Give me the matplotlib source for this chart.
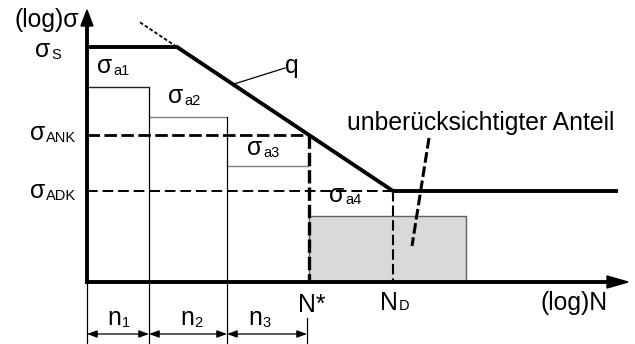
import matplotlib
matplotlib.use("Agg")
import matplotlib.pyplot as plt
from matplotlib.patches import Rectangle, Polygon

plt.rcParams["font.family"] = ["Liberation Sans", "DejaVu Sans"]

# Stress levels (log scale, height above the N axis)
sigma_S = 235
sigma_ANK = 147
sigma_ADK = 91
sigma_a = [195, 165, 116, 66]
sigma_a_subs = ["a1", "a2", "a3", "a4"]

# Cycle positions (log scale, distance from the sigma axis)
N_knee = 90          # end of the static-strength plateau
N_D = 306            # knee point of the endurance limit
block_edges = [0, 62, 140]
block4_end = 379
line_end = 531
n_subs = ["1", "2", "3"]

# Axis extents
x_axis_end = 541
y_axis_end = 272

MAIN = 17.8
SUB = 10.5

# Finite-life branch through both knee points
slope = (sigma_S - sigma_ADK) / (N_D - N_knee)
N_star = N_knee + (sigma_S - sigma_ANK) / slope
edges = block_edges + [N_star]


def woehler(x):
    return sigma_S - slope * (x - N_knee)


fig = plt.figure(figsize=(6.35, 3.44), dpi=100)
ax = fig.add_axes([0, 0, 1, 1])
ax.set_xlim(-87, 548)
ax.set_ylim(-62, 282)
ax.axis("off")

bottom = -62

# Load blocks 1-3
top_colors = ["#222222", "#808080", "#808080"]
for i in range(3):
    ax.plot([edges[i], edges[i + 1]], [sigma_a[i], sigma_a[i]],
            color=top_colors[i], lw=1.0, solid_capstyle="butt", zorder=2)
for i in (1, 2):
    ax.plot([edges[i], edges[i]], [sigma_a[i - 1], bottom],
            color="black", lw=0.9, zorder=2)

# Block 4: the part below the endurance limit
ax.add_patch(Rectangle((N_star, 0), block4_end - N_star, sigma_a[3],
                       facecolor="#d9d9d9", edgecolor="#606060", lw=1.0, zorder=1))

# Extension lines for the dimension chain
ax.plot([0, 0], [0, bottom], color="black", lw=0.9, zorder=2)
ax.plot([N_star - 2, N_star - 2], [-36, bottom], color="black", lw=0.9, zorder=2)

# Dimension arrows n1..n3
dim_y = -52
for i in range(3):
    x0, x1 = edges[i], edges[i + 1] - (2 if i == 2 else 0)
    ax.annotate("", xy=(x1, dim_y), xytext=(x0, dim_y),
                arrowprops=dict(arrowstyle="<|-|>,head_length=0.6,head_width=0.22",
                                lw=0.9, color="black", shrinkA=0, shrinkB=0,
                                mutation_scale=10))

# Reference levels
ax.plot([0, N_star], [sigma_ANK, sigma_ANK], color="black", lw=2.0,
        linestyle=(0, (4.5, 1.6)), zorder=3)
ax.plot([0, N_D], [sigma_ADK, sigma_ADK], color="black", lw=1.4,
        linestyle=(0, (5.5, 2.5)), zorder=3)
ax.plot([N_star, N_star], [sigma_ANK, 0], color="black", lw=2.4,
        linestyle=(0, (4, 1.2)), zorder=3)
ax.plot([N_D, N_D], [sigma_ADK, 0], color="black", lw=1.5,
        linestyle=(0, (5, 2)), zorder=3)

# S-N curve
ax.plot([0, N_knee, N_D, line_end], [sigma_S, sigma_S, sigma_ADK, sigma_ADK],
        color="black", lw=2.8, solid_joinstyle="miter", solid_capstyle="butt", zorder=4)
ext_x0 = 53
ax.plot([ext_x0, N_knee], [woehler(ext_x0), sigma_S], color="black", lw=1.3,
        linestyle=(0, (2, 1.2)), zorder=4)

# Leader for q
q_x = 146
ax.plot([q_x, 198], [woehler(q_x), 214], color="black", lw=0.9, zorder=4)
ax.text(198, 209, "q", fontsize=MAIN, ha="left", va="baseline")

# Leader for the neglected share
ax.plot([342, 325], [144, 36], color="black", lw=2.2,
        linestyle=(0, (3.5, 1.2)), zorder=4)
ax.text(260, 152, "unberücksichtigter Anteil", fontsize=MAIN, ha="left", va="baseline")

# Axes with arrowheads
ax.plot([0, 0], [0, y_axis_end - 14], color="black", lw=2.8, solid_capstyle="projecting", zorder=5)
ax.plot([0, x_axis_end - 19], [0, 0], color="black", lw=2.8, solid_capstyle="projecting", zorder=5)
ax.add_patch(Polygon([(0, y_axis_end), (-6, y_axis_end - 16), (6, y_axis_end - 16)],
                     closed=True, color="black", zorder=5))
ax.add_patch(Polygon([(x_axis_end, 0), (x_axis_end - 21, 6), (x_axis_end - 21, -6)],
                     closed=True, color="black", zorder=5))


def sub_label(x, y, main, sub, dx=0.5, dy=0.0, ha="left"):
    t = ax.text(x, y, main, fontsize=MAIN, ha=ha, va="baseline")
    ax.annotate(sub, xy=(1, 0), xycoords=t, xytext=(dx, dy),
                textcoords="offset points", fontsize=SUB, ha="left", va="bottom")
    return t


# Axis titles
ax.text(-8, 255, "(log)σ", fontsize=MAIN, ha="right", va="baseline")
ax.text(453, -28, "(log)N", fontsize=MAIN, ha="left", va="baseline")

# Stress labels
sub_label(-52, 225, "σ", "S")
sub_label(-57, 142, "σ", "ANK")
sub_label(-57, 84, "σ", "ADK")
lab_pos = [(10, 209), (81, 179), (160, 127), (242, 80)]
for (lx, ly), s in zip(lab_pos, sigma_a_subs):
    sub_label(lx, ly, "σ", s)

# Cycle labels
ax.text(211, -30, "N*", fontsize=MAIN, ha="left", va="baseline")
sub_label(293, -28, "N", "D", dy=1.5)
n_pos = [(20, -43), (93, -43), (161, -43)]
for (lx, ly), s in zip(n_pos, n_subs):
    sub_label(lx, ly, "n", s)

fig.savefig("out.png", dpi=100)
